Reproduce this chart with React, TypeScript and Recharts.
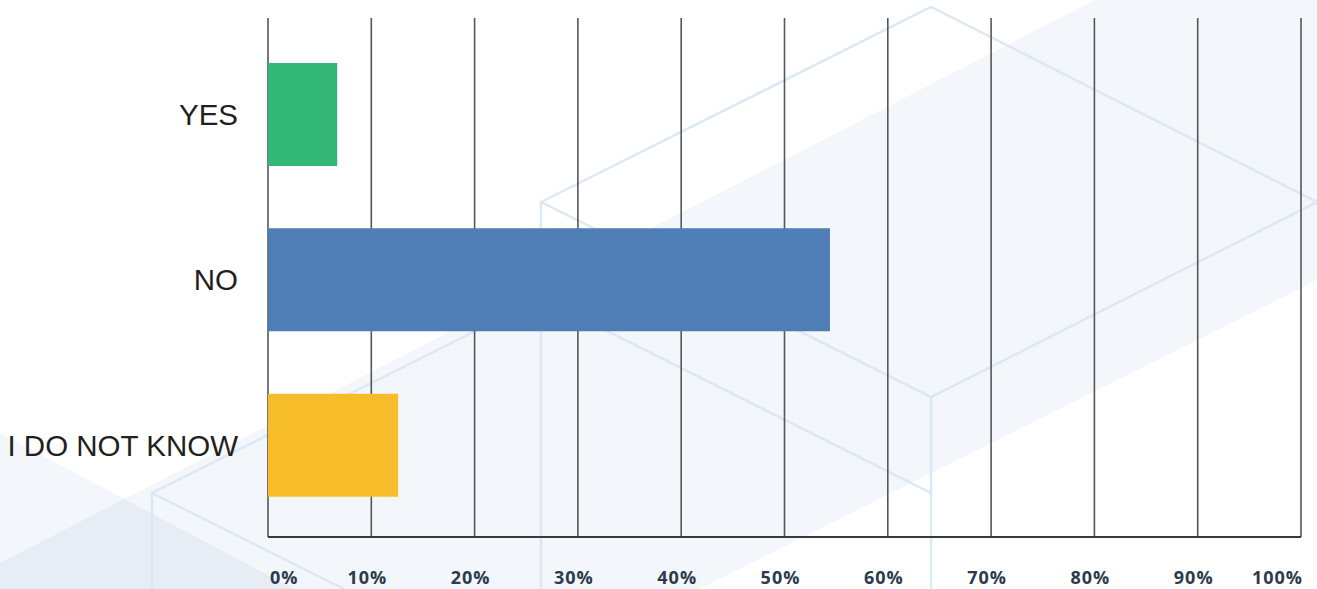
import { BarChart, Bar, XAxis, YAxis, CartesianGrid, Cell } from 'recharts';

// survey answers and the share of respondents (%)
const answers = ['YES', 'NO', 'I DO NOT KNOW'];
const shares = [6.7, 54.4, 12.6];
const barColors = ['#32b777', '#4f7db5', '#f7bc2a'];
const percentTicks = [0, 10, 20, 30, 40, 50, 60, 70, 80, 90, 100];

const data = answers.map((name, i) => ({ name, value: shares[i] }));

const W = 1317;
const H = 589;

// decorative backdrop (light cubes + diagonal band), not data
const Backdrop = () => {
  const line = { stroke: '#dbe9f4', strokeWidth: 2.5, fill: 'none' };
  return (
    <svg width={W} height={H} style={{ position: 'absolute', left: 0, top: 0 }}>
      <rect width={W} height={H} fill="#ffffff" />
      <g fill="rgb(15,75,155)" fillOpacity={0.05}>
        <polygon points="0,563 1095,0 1317,0 1317,280 699,589 0,589" />
        <polygon points="0,433 294,589 0,589" />
      </g>
      <polygon points="541,202 931,7 1317,202 931,397" {...line} />
      <polyline points="541,202 541,589" {...line} />
      <polyline points="931,397 931,589" {...line} />
      <polyline points="152,589 152,493 541,298 931,493" {...line} />
      <polyline points="152,493 344,589" {...line} />
    </svg>
  );
};

const PercentTick = (props: any) => {
  const { x, y, payload, index } = props;
  const last = index === percentTicks.length - 1;
  let anchor = 'middle';
  let tx = x - 4;
  if (index === 0) {
    anchor = 'start';
    tx = x + 2;
  } else if (last) {
    anchor = 'end';
    tx = x + 2;
  }
  return (
    <text
      x={tx}
      y={y + 47}
      textAnchor={anchor}
      fill="#2b3b4b"
      fontSize={18}
      fontWeight={700}
      letterSpacing={1}
      fontFamily="'Open Sans', 'Noto Sans', sans-serif"
    >
      {payload.value}%
    </text>
  );
};

export default function App() {
  return (
    <div style={{ position: 'absolute', left: 0, top: 0, width: W, height: H }}>
      <Backdrop />
      <div style={{ position: 'absolute', left: 0, top: 0 }}>
        <BarChart
          width={W}
          height={H}
          data={data}
          layout="vertical"
          margin={{ top: 18, right: 16, left: 0, bottom: 0 }}
        >
          <CartesianGrid horizontal={false} stroke="#575757" strokeWidth={1.6} />
          <XAxis
            type="number"
            domain={[0, 100]}
            ticks={percentTicks}
            height={52}
            tickLine={false}
            tickSize={0}
            tickMargin={0}
            axisLine={{ stroke: '#3a3a3a', strokeWidth: 2.2 }}
            tick={<PercentTick />}
            interval={0}
          />
          <YAxis
            type="category"
            dataKey="name"
            width={268}
            padding={{ top: 14, bottom: 9 }}
            axisLine={false}
            tickLine={false}
            tickSize={0}
            tickMargin={30}
            tick={{ fill: '#231f20', fontSize: 29.5, fontFamily: "'Liberation Sans', Arial, sans-serif" }}
          />
          <Bar dataKey="value" barSize={103} isAnimationActive={false}>
            {data.map((d, i) => (
              <Cell key={d.name} fill={barColors[i]} />
            ))}
          </Bar>
        </BarChart>
      </div>
    </div>
  );
}
